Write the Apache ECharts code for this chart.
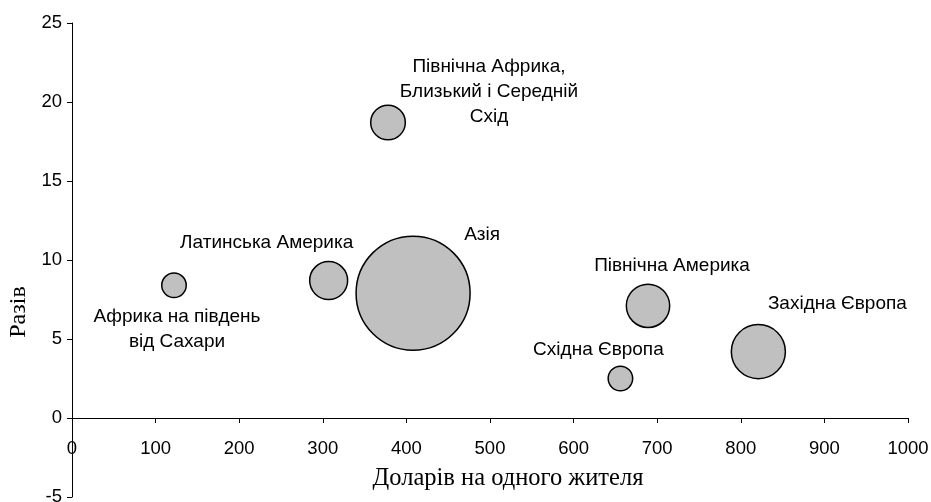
<!DOCTYPE html>
<html>
<head>
<meta charset="utf-8">
<script src="https://cdn.jsdelivr.net/npm/echarts@6/dist/echarts.min.js"></script>
<style>
html,body{margin:0;padding:0;background:#fff;}
#chart{width:931px;height:502px;}
</style>
</head>
<body>
<div id="chart"></div>
<script>
// Data
const regions = [
  'Африка на південь\nвід Сахари',
  'Латинська Америка',
  'Північна Африка,\nБлизький і Середній\nСхід',
  'Азія',
  'Східна Європа',
  'Північна Америка',
  'Західна Європа'
];
const dollarsPerCapita = [122, 307, 378, 408, 656, 689, 821];
const times = [8.4, 8.7, 18.7, 7.9, 2.5, 7.1, 4.2];
const bubbleSize = [150, 360, 300, 3250, 150, 470, 730];
const xTicks = [0, 1000, 100];   // min, max, step
const yTicks = [-5, 25, 5];      // min, max, step
const xName = 'Доларів на одного жителя';
const yName = 'Разів';

// Label placement (style only)
const labelOffsets = [[3, 44], [-62, -38], [101, -31], [69, -58], [-22, -29], [24, -40], [79, -48]];

const chart = echarts.init(document.getElementById('chart'), null, {renderer: 'canvas'});

const sans = '"Liberation Sans", Arial, sans-serif';
const serif = '"Liberation Serif", "Times New Roman", serif';

const data = regions.map((n, i) => ({
  name: n,
  value: [dollarsPerCapita[i], times[i], bubbleSize[i]],
  label: {offset: labelOffsets[i]}
}));

chart.setOption({
  animation: false,
  backgroundColor: '#fff',
  grid: {left: 72, right: 23, top: 23, bottom: 5, containLabel: false, outerBoundsMode: 'none'},
  xAxis: {
    type: 'value',
    min: xTicks[0], max: xTicks[1], interval: xTicks[2],
    axisLine: {onZero: true, lineStyle: {color: '#000', width: 1}},
    axisTick: {show: true, length: 5, inside: false, lineStyle: {color: '#000'}},
    axisLabel: {color: '#000', fontFamily: sans, fontSize: 18.5, margin: -58, formatter: v => String(v)},
    splitLine: {show: false}
  },
  yAxis: {
    type: 'value',
    min: yTicks[0], max: yTicks[1], interval: yTicks[2],
    axisLine: {show: true, onZero: false, lineStyle: {color: '#000', width: 1}},
    axisTick: {show: true, length: 5, inside: false, lineStyle: {color: '#000'}},
    axisLabel: {color: '#000', fontFamily: sans, fontSize: 18.5, margin: 10, formatter: v => String(v)},
    splitLine: {show: false}
  },
  graphic: [
    {
      type: 'text', x: 508, y: 479,
      style: {text: xName, font: '24.5px ' + serif, fill: '#000', textAlign: 'center', textVerticalAlign: 'middle'}
    },
    {
      type: 'text', x: 19, y: 312, rotation: Math.PI / 2,
      style: {text: yName, font: '24px ' + serif, fill: '#000', textAlign: 'center', textVerticalAlign: 'middle'}
    }
  ],
  series: [{
    type: 'scatter',
    data: data,
    symbolSize: v => 2 * Math.sqrt(v[2]),
    itemStyle: {color: '#c0c0c0', borderColor: '#000', borderWidth: 1.5, opacity: 1},
    label: {
      show: true,
      position: 'inside',
      formatter: p => p.name,
      color: '#000',
      fontFamily: sans,
      fontSize: 19,
      lineHeight: 25,
      align: 'center',
      verticalAlign: 'middle'
    },
    emphasis: {disabled: true},
    z: 3
  }]
});
</script>
</body>
</html>
